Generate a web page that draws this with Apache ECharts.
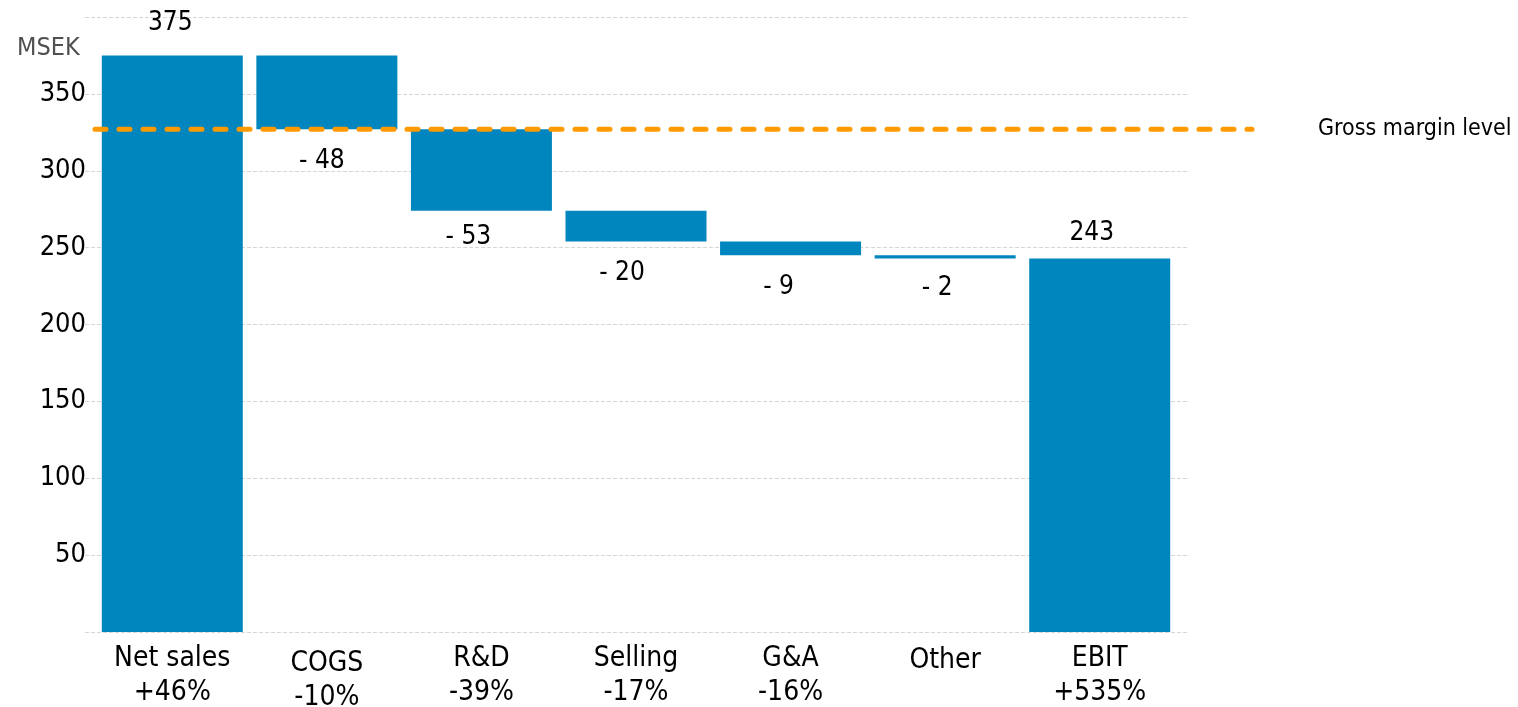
<!DOCTYPE html>
<html>
<head>
<meta charset="utf-8">
<script src="https://cdn.jsdelivr.net/npm/echarts@6/dist/echarts.min.js"></script>
<style>
  html, body { margin: 0; padding: 0; background: #fff; }
  #chart { width: 1518px; height: 707px; }
</style>
</head>
<body>
<div id="chart"></div>
<script>
// Income bridge, MSEK: net sales down to EBIT
const categories = ['Net sales', 'COGS', 'R&D', 'Selling', 'G&A', 'Other', 'EBIT'];
const growth = ['+46%', '-10%', '-39%', '-17%', '-16%', '', '+535%'];
const netSales = 375;
const costs = [-48, -53, -20, -9, -2];   // COGS, R&D, Selling, G&A, Other
const ebit = 243;
const grossMargin = 327;
const yMax = 400;
const yStep = 50;

// label nudges (px) per bar: [dx, distance]
const labelNudge = [[-2, 19], [-5, 19], [-13, 14], [-14, 19], [-12, 19], [-8, 17], [-8, 12]];
// extra top padding (px) per category label
const catLabelDrop = [0, 5, 0, 0, 0, 2, 0];

// Build the floating waterfall: invisible base + visible segment
const base = [0];
const seg = [netSales];
const labels = [String(netSales)];
let running = netSales;
costs.forEach(c => {
  running += c;
  base.push(running);
  seg.push(-c);
  labels.push('- ' + Math.abs(c));
});
base.push(0);
seg.push(ebit);
labels.push(String(ebit));

const FONT = '"DejaVu Sans Condensed", "Liberation Sans Narrow", "DejaVu Sans", sans-serif';
const BLUE = '#0086BF';
const TOP = 17, HEIGHT = 615;

const segData = seg.map((v, i) => {
  const isTotal = i === 0 || i === seg.length - 1;
  return {
    value: v,
    label: {
      show: true,
      position: isTotal ? 'top' : 'bottom',
      distance: labelNudge[i][1],
      offset: [labelNudge[i][0], 0],
      formatter: labels[i]
    }
  };
});

const catData = categories.map((c, i) => ({
  value: c,
  textStyle: { padding: [catLabelDrop[i], 0, 0, 0] }
}));

const chart = echarts.init(document.getElementById('chart'), null, { renderer: 'canvas' });
chart.setOption({
  animation: false,
  backgroundColor: '#ffffff',
  textStyle: { fontFamily: FONT },
  title: {
    text: 'MSEK',
    left: 12,
    top: 31,
    textStyle: { fontFamily: FONT, fontSize: 25, fontWeight: 'normal', color: '#505050' }
  },
  grid: [
    { left: 95, width: 1082, top: TOP, height: HEIGHT, outerBoundsMode: 'none' },   // bars
    { left: 85, width: 1102, top: TOP, height: HEIGHT, outerBoundsMode: 'none' },   // value axis + gridlines
    { left: 95, width: 1157, top: TOP, height: HEIGHT, outerBoundsMode: 'none' }    // gross margin reference line
  ],
  xAxis: [
    {
      type: 'category', gridIndex: 0, data: catData,
      axisLine: { show: false }, axisTick: { show: false },
      axisLabel: {
        interval: 0, margin: 10, fontFamily: FONT, fontSize: 28, lineHeight: 34, color: '#000',
        formatter: (v, i) => growth[i] ? v + '\n' + growth[i] : v
      }
    },
    { type: 'value', gridIndex: 1, show: false, min: 0, max: 1 },
    { type: 'value', gridIndex: 2, show: false, min: 0, max: 1 }
  ],
  yAxis: [
    { type: 'value', gridIndex: 0, min: 0, max: yMax, show: false },
    {
      type: 'value', gridIndex: 1, min: 0, max: yMax, interval: yStep,
      axisLine: { show: false }, axisTick: { show: false },
      axisLabel: {
        showMinLabel: false, showMaxLabel: false, margin: -1,
        fontFamily: FONT, fontSize: 27, color: '#000', padding: [0, 0, 10, 0]
      },
      splitLine: { show: true, lineStyle: { color: '#d6d6d6', width: 1, type: [4, 2] } }
    },
    { type: 'value', gridIndex: 2, min: 0, max: yMax, show: false }
  ],
  series: [
    {
      name: 'base', type: 'bar', stack: 'bridge', xAxisIndex: 0, yAxisIndex: 0,
      data: base, barWidth: 141,
      itemStyle: { color: 'rgba(0,0,0,0)' },
      emphasis: { disabled: true }, silent: true
    },
    {
      name: 'value', type: 'bar', stack: 'bridge', xAxisIndex: 0, yAxisIndex: 0,
      data: segData, barWidth: 141,
      itemStyle: { color: BLUE },
      label: { fontFamily: FONT, fontSize: 26, color: '#000' }
    },
    {
      name: 'Gross margin level', type: 'line', xAxisIndex: 2, yAxisIndex: 2, z: 10,
      data: [[0, grossMargin], [1, grossMargin]],
      symbol: 'none', silent: true,
      lineStyle: { color: '#FF9900', width: 5, type: [11, 13], cap: 'round' },
      endLabel: {
        show: true, formatter: 'Gross margin level', distance: 66,
        fontFamily: FONT, fontSize: 23, color: '#000'
      }
    }
  ]
});
</script>
</body>
</html>
